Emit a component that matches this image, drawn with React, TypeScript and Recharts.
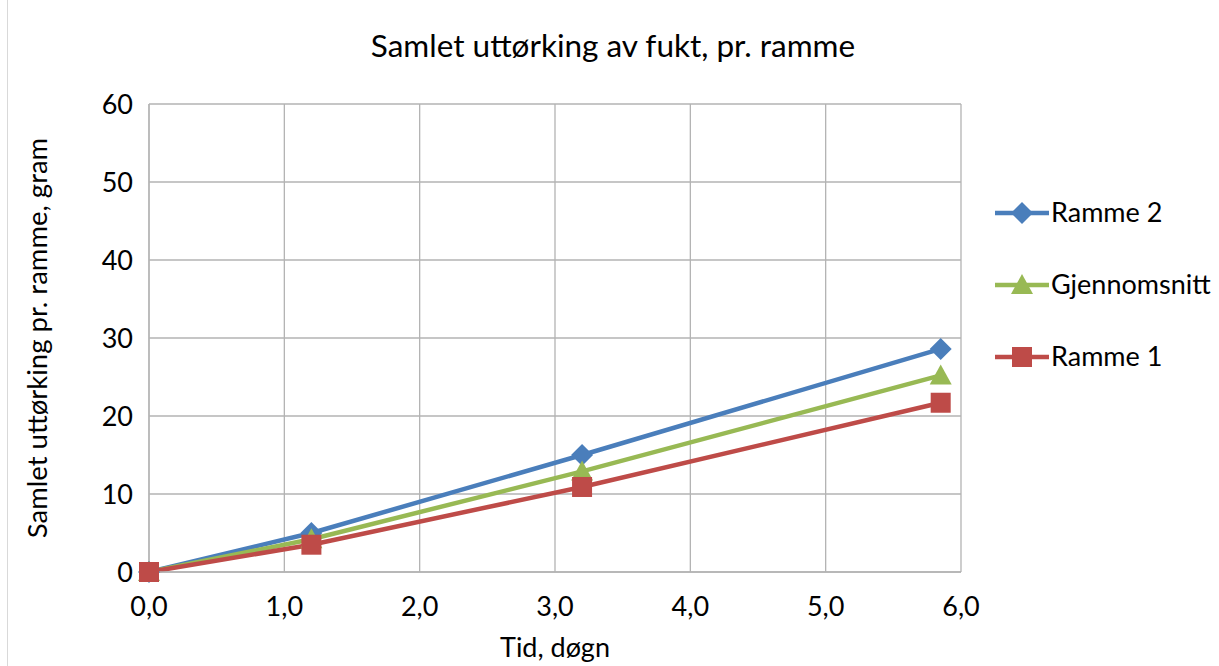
import React from "react";
import { LineChart, Line, XAxis, YAxis, CartesianGrid, Legend, Label } from "recharts";

const days = [0, 1.2, 3.2, 5.85];
const ramme2 = [0, 5.0, 15.0, 28.6];
const snitt = [0, 4.2, 12.9, 25.2];
const ramme1 = [0, 3.5, 10.9, 21.7];
const xTicks = [0, 1, 2, 3, 4, 5, 6];
const yTicks = [0, 10, 20, 30, 40, 50, 60];

const title = "Samlet uttørking av fukt, pr. ramme";
const xTitle = "Tid, døgn";
const yTitle = "Samlet uttørking pr. ramme, gram";

const BLUE = "#4A7EBB";
const GREEN = "#98B954";
const RED = "#BE4B48";
const FONT = "Lato, 'Open Sans', sans-serif";

const data = days.map((d, i) => ({ t: d, r2: ramme2[i], avg: snitt[i], r1: ramme1[i] }));

const Diamond = (p: any) => {
  const { cx, cy, fill } = p;
  if (cx == null || cy == null) return null;
  const s = 11;
  return <polygon points={`${cx},${cy - s} ${cx + s},${cy} ${cx},${cy + s} ${cx - s},${cy}`} fill={fill} />;
};
const Triangle = (p: any) => {
  const { cx, cy, fill } = p;
  if (cx == null || cy == null) return null;
  return <polygon points={`${cx},${cy - 11} ${cx + 11},${cy + 9} ${cx - 11},${cy + 9}`} fill={fill} />;
};
const Square = (p: any) => {
  const { cx, cy, fill } = p;
  if (cx == null || cy == null) return null;
  return <rect x={cx - 10} y={cy - 10} width={20} height={20} fill={fill} />;
};

const legendItems = [
  { name: "Ramme 2", color: BLUE, shape: Diamond },
  { name: "Gjennomsnitt", color: GREEN, shape: Triangle },
  { name: "Ramme 1", color: RED, shape: Square },
];

const LEGEND_W = 226;

const LegendContent = () => (
  <svg width={LEGEND_W} height={180} style={{ display: "block" }}>
    {legendItems.map((it, i) => {
      const y = 20 + i * 72;
      const S = it.shape;
      return (
        <g key={it.name}>
          <line x1={2} x2={56} y1={y} y2={y} stroke={it.color} strokeWidth={4.5} />
          <S cx={29} cy={y} fill={it.color} />
          <text x={58} y={y + 9} fontFamily={FONT} fontSize={27} fill="#000">{it.name}</text>
        </g>
      );
    })}
  </svg>
);

export default function App() {
  return (
    <div style={{ position: "absolute", left: 0, top: 0, width: 1219, height: 666, background: "#fff" }}>
      <div style={{ position: "absolute", left: 7, top: 0, width: 1, height: 666, background: "#D9D9D9" }} />
      <div style={{ position: "absolute", left: 0, top: 26, width: 1226, textAlign: "center", fontFamily: FONT, fontSize: 31.5, color: "#000" }}>
        {title}
      </div>
      <LineChart width={1219} height={666} data={data} margin={{ top: 104, right: 258 - LEGEND_W, bottom: 64, left: 0 }}>
        <CartesianGrid stroke="#B3B3B3" strokeWidth={1.3} />
        <XAxis
          dataKey="t"
          type="number"
          domain={[0, 6]}
          ticks={xTicks}
          tickFormatter={(v: number) => v.toFixed(1).replace(".", ",")}
          stroke="#B3B3B3"
          strokeWidth={1.3}
          tickLine={false}
          tick={{ fill: "#000", fontSize: 27, fontFamily: FONT }}
          tickMargin={19}
          height={30}
        >
          <Label
            content={(props: any) => {
              const vb = props.viewBox || {};
              return (
                <text x={vb.x + vb.width / 2} y={657} textAnchor="middle" fontFamily={FONT} fontSize={27} fill="#000">
                  {xTitle}
                </text>
              );
            }}
          />
        </XAxis>
        <YAxis
          type="number"
          domain={[0, 60]}
          ticks={yTicks}
          stroke="#B3B3B3"
          strokeWidth={1.3}
          tickLine={false}
          tick={{ fill: "#000", fontSize: 27, fontFamily: FONT }}
          tickMargin={10}
          width={149}
        >
          <Label
            content={(props: any) => {
              const vb = props.viewBox || {};
              const x = 47;
              const y = vb.y + vb.height / 2;
              return (
                <text x={x} y={y} transform={`rotate(-90, ${x}, ${y})`} textAnchor="middle" fontFamily={FONT} fontSize={27.5} fill="#000">
                  {yTitle}
                </text>
              );
            }}
          />
        </YAxis>
        <Legend
          layout="vertical"
          align="right"
          verticalAlign="middle"
          content={<LegendContent />}
          wrapperStyle={{ position: "absolute", left: 993, top: 193, width: LEGEND_W, height: 180 }}
        />
        <Line dataKey="r2" name="Ramme 2" stroke={BLUE} strokeWidth={4.5} dot={<Diamond fill={BLUE} />} isAnimationActive={false} legendType="diamond" />
        <Line dataKey="avg" name="Gjennomsnitt" stroke={GREEN} strokeWidth={4.5} dot={<Triangle fill={GREEN} />} isAnimationActive={false} legendType="triangle" />
        <Line dataKey="r1" name="Ramme 1" stroke={RED} strokeWidth={4.5} dot={<Square fill={RED} />} isAnimationActive={false} legendType="square" />
      </LineChart>
    </div>
  );
}
